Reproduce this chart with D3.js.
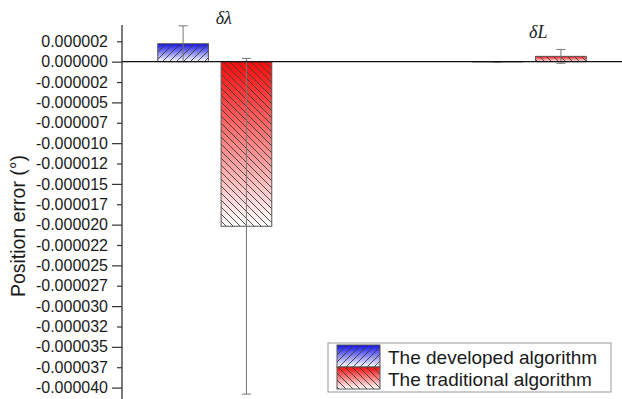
<!DOCTYPE html>
<html><head><meta charset="utf-8">
<script src="https://cdn.jsdelivr.net/npm/d3@7"></script>
<style>body{margin:0;background:#fff}svg{display:block}</style>
</head><body>
<svg id="c" width="622" height="399"></svg>
<script>
const categories = ["δλ", "δL"];
const series = ["The developed algorithm", "The traditional algorithm"];
const developedValues = [2.2e-6, -0.03e-6];
const developedErrors = [2.2e-6, 0.05e-6];
const traditionalValues = [-20.2e-6, 0.65e-6];
const traditionalErrors = [20.6e-6, 0.85e-6];
const tickValues = [2.5e-6, 0, -2.5e-6, -5e-6, -7.5e-6, -10e-6, -12.5e-6, -15e-6, -17.5e-6, -20e-6, -22.5e-6, -25e-6, -27.5e-6, -30e-6, -32.5e-6, -35e-6, -37.5e-6, -40e-6];
const tickLabels = ["0.000002", "0.000000", "-0.000002", "-0.000005", "-0.000007", "-0.000010", "-0.000012", "-0.000015", "-0.000017", "-0.000020", "-0.000022", "-0.000025", "-0.000027", "-0.000030", "-0.000032", "-0.000035", "-0.000037", "-0.000040"];
const yTitle = "Position error (°)";

const svg = d3.select("#c");
const W = 622, H = 399;
const axisX = 122;
const font = "'Liberation Sans', Arial, sans-serif";

const y = d3.scaleLinear().domain([4.5e-6, -41.4e-6]).range([25, 399]);
const x = d3.scaleBand().domain(categories).range([axisX, W]).paddingInner(0.41).paddingOuter(0);
const bw = x.bandwidth();
const xs = d3.scaleBand().domain(series).range([bw / 2 - 57, bw / 2 + 57]).paddingInner(0.2);

const colors = {"The developed algorithm": "#1010f0", "The traditional algorithm": "#ff0a0a"};
const hatchDir = {"The developed algorithm": 1, "The traditional algorithm": -1};

const defs = svg.append("defs");
series.forEach((s, i) => {
  const g = defs.append("linearGradient").attr("id", "grad" + i)
    .attr("x1", 0).attr("y1", 0).attr("x2", 0).attr("y2", 1);
  g.append("stop").attr("offset", "0%").attr("stop-color", colors[s]);
  g.append("stop").attr("offset", "100%").attr("stop-color", "#ffffff");
  const p = defs.append("pattern").attr("id", "hatch" + i)
    .attr("patternUnits", "userSpaceOnUse").attr("width", 7).attr("height", 7);
  if (hatchDir[s] > 0) {
    p.append("path").attr("d", "M-1,8 L8,-1 M-2,2 L2,-2 M5,9 L9,5");
  } else {
    p.append("path").attr("d", "M-1,-1 L8,8 M-2,5 L2,9 M5,-2 L9,2");
  }
  p.select("path").attr("stroke", "#3a3a3a").attr("stroke-width", 0.9).attr("fill", "none");
});

const data = [];
categories.forEach((c, ci) => {
  data.push({cat: c, s: series[0], si: 0, v: developedValues[ci], e: developedErrors[ci]});
  data.push({cat: c, s: series[1], si: 1, v: traditionalValues[ci], e: traditionalErrors[ci]});
});

const bars = svg.append("g");
data.forEach(d => {
  const x0 = x(d.cat) + xs(d.s);
  const y0 = Math.min(y(0), y(d.v));
  const h = Math.abs(y(d.v) - y(0));
  bars.append("rect").attr("x", x0).attr("y", y0).attr("width", xs.bandwidth()).attr("height", h)
    .attr("fill", `url(#grad${d.si})`);
  bars.append("rect").attr("x", x0).attr("y", y0).attr("width", xs.bandwidth()).attr("height", h)
    .attr("fill", `url(#hatch${d.si})`).attr("stroke", "#555").attr("stroke-width", 1);
});

// error bars
const eb = svg.append("g").attr("stroke", "#777").attr("stroke-width", 1).attr("fill", "none");
data.forEach(d => {
  const cx = x(d.cat) + xs(d.s) + xs.bandwidth() / 2;
  const yt = y(d.v + d.e), yb = y(d.v - d.e);
  eb.append("line").attr("x1", cx).attr("x2", cx).attr("y1", yt).attr("y2", yb);
  eb.append("line").attr("x1", cx - 4.5).attr("x2", cx + 4.5).attr("y1", yt).attr("y2", yt);
  eb.append("line").attr("x1", cx - 4.5).attr("x2", cx + 4.5).attr("y1", yb).attr("y2", yb);
});

// zero line
svg.append("line").attr("x1", axisX).attr("x2", W).attr("y1", y(0)).attr("y2", y(0))
  .attr("stroke", "#111").attr("stroke-width", 1.3);

// y axis
const axis = d3.axisLeft(y).tickValues(tickValues)
  .tickFormat((d, i) => tickLabels[i]).tickSize(0).tickPadding(14);
const ag = svg.append("g").attr("transform", `translate(${axisX},0)`).call(axis);
ag.select(".domain").remove();
ag.selectAll(".tick text").attr("font-family", font).attr("font-size", 16).attr("fill", "#1a1a1a");
ag.selectAll(".tick").append("line")
  .attr("x1", (d) => (Math.abs(Math.round(d * 1e7)) % 50 === 0) ? -10 : -5)
  .attr("x2", 0).attr("stroke", "#333").attr("stroke-width", 1.2);
svg.append("line").attr("x1", axisX).attr("x2", axisX).attr("y1", y.range()[0]).attr("y2", H)
  .attr("stroke", "#333").attr("stroke-width", 1.3);

// y title
svg.append("text").attr("transform", `translate(25,226) rotate(-90)`)
  .attr("text-anchor", "middle").attr("font-family", font).attr("font-size", 19.5).attr("fill", "#1a1a1a")
  .text(yTitle);

// category labels
const labelY = {"δλ": 24, "δL": 38};
categories.forEach(c => {
  svg.append("text").attr("x", x(c) + bw / 2 + 9).attr("y", labelY[c])
    .attr("text-anchor", "middle").attr("font-family", "'Liberation Serif', 'Times New Roman', serif")
    .attr("font-style", "italic").attr("font-size", 18).attr("fill", "#222").text(c);
});

// legend
const lg = svg.append("g").attr("transform", "translate(328,343)");
lg.append("rect").attr("x", 0).attr("y", 0).attr("width", 283).attr("height", 49)
  .attr("fill", "#fff").attr("stroke", "#999").attr("stroke-width", 1);
series.forEach((s, i) => {
  const yy = 2 + i * 22;
  lg.append("rect").attr("x", 9).attr("y", yy).attr("width", 43).attr("height", 22).attr("fill", `url(#grad${i})`);
  lg.append("rect").attr("x", 9).attr("y", yy).attr("width", 43).attr("height", 22)
    .attr("fill", `url(#hatch${i})`).attr("stroke", "#555").attr("stroke-width", 1);
  lg.append("text").attr("x", 60).attr("y", yy + 18.5).attr("font-family", font).attr("font-size", 19)
    .attr("fill", "#1a1a1a").text(s);
});
</script>
</body></html>
